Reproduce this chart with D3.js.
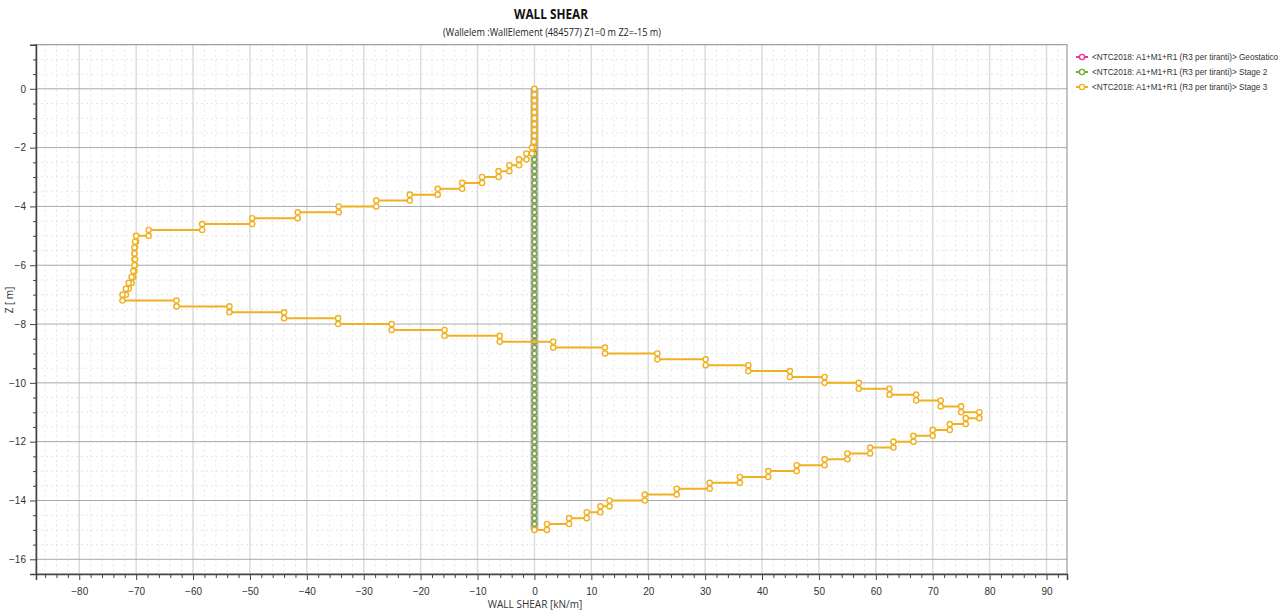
<!DOCTYPE html>
<html>
<head>
<meta charset="utf-8">
<script src="https://cdn.jsdelivr.net/npm/d3@7"></script>
<style>
  body { margin: 0; background: #fff; }
  svg { font-family: "Open Sans", "Noto Sans", sans-serif; }
  .legend-text { font-family: "Liberation Sans", Arial, sans-serif; }
</style>
</head>
<body>
<div id="chart"></div>
<script>
// node depths of the wall elements (m)
const depths = [0, -0.2, -0.4, -0.6, -0.8, -1, -1.2, -1.4, -1.6, -1.8, -2, -2.2, -2.4, -2.6, -2.8, -3,
  -3.2, -3.4, -3.6, -3.8, -4, -4.2, -4.4, -4.6, -4.8, -5, -5.2, -5.4, -5.6, -5.8, -6, -6.2, -6.4,
  -6.6, -6.8, -7, -7.2, -7.4, -7.6, -7.8, -8, -8.2, -8.4, -8.6, -8.8, -9, -9.2, -9.4, -9.6, -9.8,
  -10, -10.2, -10.4, -10.6, -10.8, -11, -11.2, -11.4, -11.6, -11.8, -12, -12.2, -12.4, -12.6, -12.8,
  -13, -13.2, -13.4, -13.6, -13.8, -14, -14.2, -14.4, -14.6, -14.8, -15];

// shear per element (kN/m), element i spans depths[i]..depths[i+1]
const geostatico = [0, 0, 0, 0, 0, 0, 0, 0, 0, 0, 0, 0, 0, 0, 0, 0, 0, 0, 0, 0, 0, 0, 0, 0, 0,
  0, 0, 0, 0, 0, 0, 0, 0, 0, 0, 0, 0, 0, 0, 0, 0, 0, 0, 0, 0, 0, 0, 0, 0, 0,
  0, 0, 0, 0, 0, 0, 0, 0, 0, 0, 0, 0, 0, 0, 0, 0, 0, 0, 0, 0, 0, 0, 0, 0, 0];
const stage2 = [0, 0, 0, 0, 0, 0, 0, 0, 0, 0, 0, 0, 0, 0, 0, 0, 0, 0, 0, 0, 0, 0, 0, 0, 0,
  0, 0, 0, 0, 0, 0, 0, 0, 0, 0, 0, 0, 0, 0, 0, 0, 0, 0, 0, 0, 0, 0, 0, 0, 0,
  0, 0, 0, 0, 0, 0, 0, 0, 0, 0, 0, 0, 0, 0, 0, 0, 0, 0, 0, 0, 0, 0, 0, 0, 0];
const stage3 = [0, 0, 0, 0, 0, 0, 0, 0, 0, -0.1,
  -0.44, -1.4, -2.7, -4.4, -6.3, -9.2, -12.7, -17.0, -21.9, -27.8,
  -34.4, -41.6, -49.6, -58.4, -67.8, -70.0, -70.2, -70.3, -70.3, -70.2,
  -70.3, -70.5, -70.8, -71.3, -71.8, -72.4, -62.9, -53.6, -44.0, -34.5,
  -25.1, -15.8, -6.1, 3.3, 12.4, 21.6, 30.1, 37.6, 44.9, 51.0,
  57.0, 62.4, 67.1, 71.4, 75.0, 78.2, 75.8, 73.0, 70.0, 66.6,
  63.1, 59.0, 55.0, 51.0, 46.1, 41.1, 36.1, 30.8, 25.0, 19.4,
  13.2, 11.6, 9.2, 6.1, 2.2];

const seriesNames = [
  "<NTC2018: A1+M1+R1 (R3 per tiranti)> Geostatico",
  "<NTC2018: A1+M1+R1 (R3 per tiranti)> Stage 2",
  "<NTC2018: A1+M1+R1 (R3 per tiranti)> Stage 3"
];
const seriesColors = ["#e8349a", "#72ad3a", "#f0b020"];
const xTicks = [-80, -70, -60, -50, -40, -30, -20, -10, 0, 10, 20, 30, 40, 50, 60, 70, 80, 90];
const yTicks = [0, -2, -4, -6, -8, -10, -12, -14, -16];

const W = 1285, H = 612;
const plot = { left: 36, right: 1067, top: 44.7, bottom: 574 };

// staircase points: top and bottom of every element
function toPoints(vals) {
  const pts = [];
  vals.forEach((v, i) => {
    pts.push([v, depths[i]]);
    pts.push([v, depths[i + 1]]);
  });
  pts.push([0, depths[depths.length - 1]]);
  return pts;
}
const allSeries = [geostatico, stage2, stage3].map(toPoints);

const svg = d3.select("#chart").append("svg")
  .attr("width", W)
  .attr("height", H);

const x = d3.scaleLinear().domain([-87.6, 93.6]).range([plot.left, plot.right]);
const y = d3.scaleLinear().domain([1.5, -16.5]).range([plot.top, plot.bottom]);

const minorX = d3.range(-86, 94, 2).filter(v => v % 10 !== 0);
const minorY = d3.range(1.5, -16.6, -0.5).filter(v => v % 2 !== 0);

// minor grid (dotted)
const g = svg.append("g");
g.selectAll(".mx").data(minorX)
  .enter().append("line")
  .attr("x1", d => x(d)).attr("x2", d => x(d))
  .attr("y1", plot.top).attr("y2", plot.bottom)
  .attr("stroke", "#e6e6e6").attr("stroke-dasharray", "2,3");
g.selectAll(".my").data(minorY)
  .enter().append("line")
  .attr("y1", d => y(d)).attr("y2", d => y(d))
  .attr("x1", plot.left).attr("x2", plot.right)
  .attr("stroke", "#e6e6e6").attr("stroke-dasharray", "2,3");

// major grid
g.selectAll(".gx").data(xTicks).enter().append("line")
  .attr("x1", d => x(d)).attr("x2", d => x(d))
  .attr("y1", plot.top).attr("y2", plot.bottom)
  .attr("stroke", "#dcdcdc").attr("stroke-width", 1.5);
g.selectAll(".gy").data(yTicks).enter().append("line")
  .attr("y1", d => y(d)).attr("y2", d => y(d))
  .attr("x1", plot.left).attr("x2", plot.right)
  .attr("stroke", "#a9a9a9").attr("stroke-width", 1);

// frame
svg.append("rect")
  .attr("x", plot.left).attr("y", plot.top)
  .attr("width", plot.right - plot.left).attr("height", plot.bottom - plot.top)
  .attr("fill", "none").attr("stroke", "#8a8a8a");

// axes
svg.append("g").attr("transform", `translate(0,${plot.bottom})`)
  .call(d3.axisBottom(x).tickValues(xTicks).tickSize(6).tickPadding(8).tickFormat(d3.format("d")));
svg.append("g").attr("transform", `translate(0,${plot.bottom})`)
  .call(d3.axisBottom(x).tickValues(minorX).tickSize(4).tickFormat(""))
  .call(a => a.select(".domain").remove());
svg.append("g").attr("transform", `translate(${plot.left},0)`)
  .call(d3.axisLeft(y).tickValues(yTicks).tickSize(6).tickPadding(4).tickFormat(d3.format("d")));
svg.append("g").attr("transform", `translate(${plot.left},0)`)
  .call(d3.axisLeft(y).tickValues(minorY).tickSize(3).tickFormat(""))
  .call(a => a.select(".domain").remove());
svg.selectAll(".domain").attr("stroke", "#444").attr("stroke-width", 1.5);
svg.selectAll(".tick line").attr("stroke", "#444");
svg.selectAll(".tick text").attr("fill", "#333").style("font-size", "10px");

// wall
svg.append("line")
  .attr("x1", x(0)).attr("x2", x(0))
  .attr("y1", y(0)).attr("y2", y(-15))
  .attr("stroke", "#b5b9bf").attr("stroke-width", 8);

// series
const line = d3.line().x(d => x(d[0])).y(d => y(d[1]));
allSeries.forEach((pts, si) => {
  const sg = svg.append("g");
  sg.append("path").datum(pts)
    .attr("d", line)
    .attr("fill", "none")
    .attr("stroke", seriesColors[si])
    .attr("stroke-width", si === 2 ? 2 : 1.5);
  sg.selectAll("circle").data(pts).enter().append("circle")
    .attr("cx", d => x(d[0])).attr("cy", d => y(d[1]))
    .attr("r", si === 2 ? 2.6 : 2.1)
    .attr("fill", "#fff")
    .attr("stroke", seriesColors[si])
    .attr("stroke-width", si === 2 ? 1.4 : 1.2);
});

// titles
svg.append("text").attr("x", 551).attr("y", 19).attr("text-anchor", "middle")
  .style("font-size", "14px").style("font-weight", "bold").attr("fill", "#111")
  .attr("textLength", 74).attr("lengthAdjust", "spacingAndGlyphs")
  .text("WALL SHEAR");
svg.append("text").attr("x", 552).attr("y", 36).attr("text-anchor", "middle")
  .style("font-size", "10px").attr("fill", "#222")
  .attr("textLength", 218).attr("lengthAdjust", "spacingAndGlyphs")
  .text("(Wallelem :WallElement (484577) Z1=0 m Z2=-15 m)");
svg.append("text").attr("x", 535).attr("y", 608).attr("text-anchor", "middle")
  .style("font-size", "10px").attr("fill", "#333")
  .text("WALL SHEAR [kN/m]");
svg.append("text").attr("transform", "translate(13,300) rotate(-90)").attr("text-anchor", "middle")
  .style("font-size", "10px").attr("fill", "#333")
  .text("Z [ m]");

// legend
const lg = svg.append("g").attr("transform", "translate(1076,57)");
seriesNames.forEach((name, i) => {
  const row = lg.append("g").attr("transform", `translate(0,${i * 15})`);
  row.append("line").attr("x1", 0).attr("x2", 12).attr("y1", 0).attr("y2", 0)
    .attr("stroke", seriesColors[i]).attr("stroke-width", 2);
  row.append("circle").attr("cx", 6).attr("cy", 0).attr("r", 2.6)
    .attr("fill", "#fff").attr("stroke", seriesColors[i]).attr("stroke-width", 1.4);
  row.append("text").attr("class", "legend-text").attr("x", 16).attr("y", 3)
    .style("font-size", "8.2px").attr("fill", "#333")
    .text(name);
});
</script>
</body>
</html>
